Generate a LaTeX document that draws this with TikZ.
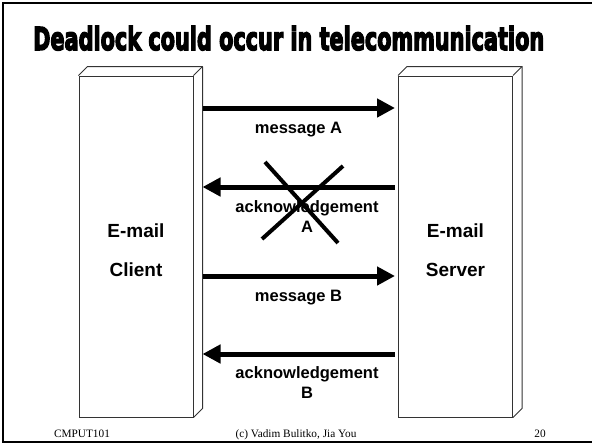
\documentclass[tikz,border=0pt]{standalone}
\usepackage{graphicx}
\usepackage{xcolor}
\usepackage{fontspec}
\setmainfont{Liberation Serif}
\newfontfamily\labfont{Liberation Sans}
\newfontfamily\titlefont{DejaVu Sans Bold}[FakeBold=5]
\usetikzlibrary{arrows.meta,calc,positioning}
\definecolor{edge}{HTML}{333333}

\begin{document}
\begin{tikzpicture}[x=1pt, y=-1pt,
    box/.style={draw=edge, line width=1pt, minimum width=114pt,
      minimum height=341pt, inner sep=0pt},
    boxtxt/.style={font=\labfont\bfseries\fontsize{19}{39}\selectfont,
      align=center, inner sep=0pt},
    msg/.style={line width=5pt, -{Triangle[length=18pt,width=18pt]}},
    lab/.style={font=\labfont\bfseries\fontsize{16.5}{20}\selectfont,
      align=center, inner sep=0pt},
    foot/.style={font=\fontsize{11.3}{13}\selectfont, inner sep=0pt,
      anchor=base},
    cross/.style={line width=4pt}]
  % Slide: framed page, title on top, two 3-D boxes (client, server),
  % four thick arrows between them; the first ack is crossed out.
  % Coordinates: pixel-like units, y grows downwards.
  \useasboundingbox (0,0) rectangle (592,445);
  \draw[line width=2pt] (3,3) rectangle (593,442);
  \node[anchor=base west, inner sep=0pt] (title) at (33,50)
    {\resizebox{511pt}{24pt}{\titlefont Deadlock could occur in telecommunication}};

  \node[box] (client) at (136,246.5) {};
  \node[box] (server) at (455.5,246.5) {};
  \node[boxtxt] (clientlab) at ([yshift=-4pt]client.center) {E-mail\\Client};
  \node[boxtxt] (serverlab) at ([yshift=-4pt]server.center) {E-mail\\Server};
  % top and side faces of the boxes
  \foreach \b in {client,server} {
    \draw[edge, line width=1pt, line join=round] (\b.north west) -- ++(9,-9)
      -- ($(\b.north east)+(9,-9)$) -- ($(\b.south east)+(9,-9)$)
      -- (\b.south east);
    \draw[edge, line width=1pt] (\b.north east) -- ++(9,-9);
  }

  \coordinate (cb) at ($(client.east)+(9,0)$);
  \coordinate (sf) at ($(server.west)+(-3,0)$);
  \foreach \y in {108,276}
    \draw[msg] (cb |- 0,\y) -- (sf |- 0,\y);
  \foreach \y in {187,354}
    \draw[msg] (sf |- 0,\y) -- (cb |- 0,\y);

  \node[lab, anchor=base] (msgA) at (298.5,133) {message A};
  \node[lab, anchor=north] (ackA) at (307,200) {acknowledgement\\A};
  \node[lab, anchor=base] (msgB) at (298.5,301.5) {message B};
  \node[lab, anchor=north] (ackB) at (307,366) {acknowledgement\\B};

  % lost acknowledgement
  \draw[cross] (265,162) -- (338,243);
  \draw[cross] (343,166) -- (262,239);

  \node[foot] (course) at (82,437) {CMPUT101};
  \node[foot] (credit) at (296,437) {(c) Vadim Bulitko, Jia You};
  \node[foot] (page) at (540,437) {20};
\end{tikzpicture}
\end{document}
